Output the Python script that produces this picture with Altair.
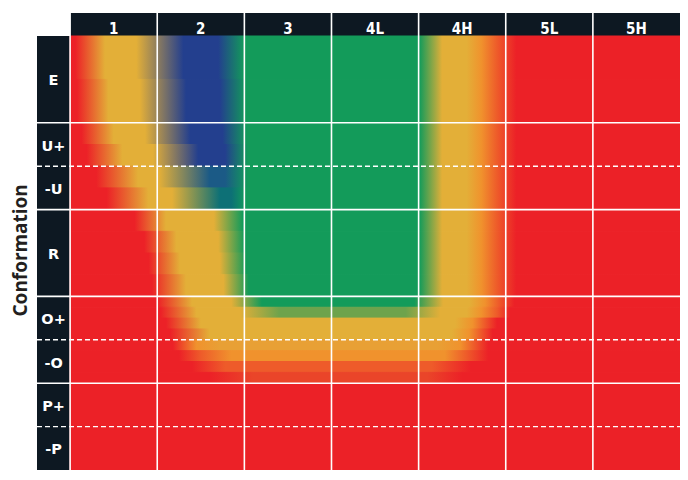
import altair as alt
import pandas as pd

# ---- categories -------------------------------------------------------
fat_classes = ["1", "2", "3", "4L", "4H", "5L", "5H"]
conformation = ["E", "U+", "-U", "R", "O+", "-O", "P+", "-P"]
conf_top = [0, 2, 3, 4, 6, 7, 8, 9]          # in half-class units
conf_bottom = [2, 3, 4, 6, 7, 8, 9, 10]
solid_rows = [2, 4, 6, 8]                    # main class boundaries
dashed_rows = [3, 7, 9]                      # sub-class boundaries

NCOL = len(fat_classes)
NROW = conf_bottom[-1]
XMIN = -0.38    # room for the conformation label column
YMIN = -0.53    # room for the fat class header

# ---- colour zones ----------------------------------------------------
PAL = {
    "R": "#EC2127", "Rd": "#EA4529", "Rr": "#EE5B2A", "Or": "#F0922D",
    "YO": "#E8A035", "Y": "#E3AF38", "L": "#6EA34C", "G": "#139B5A",
    "T": "#0D7076", "Bt": "#1B5A86", "B": "#233F8E",
}

band_top = [0, 1, 2, 2.5, 3, 3.5, 4, 4.5, 5, 5.5, 6, 6.25, 6.5, 6.75, 7, 7.25, 7.5, 7.75, 8]
band_bottom = [1, 2, 2.5, 3, 3.5, 4, 4.5, 5, 5.5, 6, 6.25, 6.5, 6.75, 7, 7.25, 7.5, 7.75, 8, 10]

right_side = [("G", 4.01), ("Y", 4.27), ("Y", 4.55), ("Or", 4.72), ("Rr", 4.90), ("R", 5.12), ("R", 7)]

band_profile = [
    [("R", 0), ("R", 0.06), ("Y", 0.40), ("Y", 0.76), ("B", 1.30), ("B", 1.70), ("G", 2.00)] + right_side,
    [("R", 0), ("R", 0.08), ("Y", 0.44), ("Y", 0.80), ("B", 1.33), ("B", 1.72), ("G", 2.02)] + right_side,
    [("R", 0), ("R", 0.13), ("Y", 0.50), ("Y", 0.86), ("B", 1.38), ("B", 1.75), ("G", 2.03)] + right_side,
    [("R", 0), ("R", 0.19), ("Y", 0.60), ("Y", 0.95), ("B", 1.47), ("B", 1.78), ("G", 2.04)] + right_side,
    [("R", 0), ("R", 0.30), ("Y", 0.78), ("Y", 1.02), ("Bt", 1.60), ("Bt", 1.78), ("G", 2.04)] + right_side,
    [("R", 0), ("R", 0.42), ("Y", 0.90), ("Y", 1.17), ("T", 1.72), ("T", 1.85), ("G", 2.02)] + right_side,
    [("R", 0), ("R", 0.74), ("Y", 1.10), ("Y", 1.65), ("G", 1.98)] + right_side,
    [("R", 0), ("R", 0.85), ("Y", 1.22), ("Y", 1.70), ("G", 2.00)] + right_side,
    [("R", 0), ("R", 0.90), ("Y", 1.26), ("Y", 1.72), ("G", 2.02)] + right_side,
    [("R", 0), ("R", 0.94), ("Y", 1.33), ("Y", 1.76), ("G", 2.05)] + right_side,
    [("R", 0), ("R", 1.00), ("Y", 1.40), ("Y", 1.85), ("G", 2.20), ("G", 3.95), ("Y", 4.28),
     ("Y", 4.58), ("Or", 4.76), ("Rr", 4.92), ("R", 5.10), ("R", 7)],
    [("R", 0), ("R", 1.04), ("Y", 1.45), ("Y", 1.95), ("L", 2.40), ("L", 3.85), ("Y", 4.25),
     ("Y", 4.55), ("Or", 4.72), ("Rr", 4.90), ("R", 5.05), ("R", 7)],
    [("R", 0), ("R", 1.10), ("Y", 1.50), ("Y", 4.42), ("Or", 4.62), ("R", 4.90), ("R", 7)],
    [("R", 0), ("R", 1.15), ("Y", 1.60), ("Y", 4.38), ("Or", 4.58), ("R", 4.85), ("R", 7)],
    [("R", 0), ("R", 1.18), ("Or", 1.45), ("YO", 1.72), ("YO", 4.22), ("Or", 4.48), ("R", 4.80), ("R", 7)],
    [("R", 0), ("R", 1.25), ("Rr", 1.50), ("Or", 1.85), ("Or", 4.30), ("Rr", 4.55), ("R", 4.80), ("R", 7)],
    [("R", 0), ("R", 1.40), ("Rr", 1.78), ("Rr", 4.15), ("R", 4.60), ("R", 7)],
    [("R", 0), ("R", 1.60), ("Rd", 2.10), ("Rd", 4.10), ("R", 4.50), ("R", 7)],
    [("R", 0), ("R", 7)],
]

DARK = "#0D1822"

xscale = alt.Scale(domain=[XMIN, NCOL], nice=False, zero=False)
yscale = alt.Scale(domain=[YMIN, NROW], nice=False, zero=False, reverse=True)


def xy(chart):
    return chart.encode(
        x=alt.X("x0:Q", scale=xscale, axis=None),
        x2="x1:Q",
        y=alt.Y("y0:Q", scale=yscale, axis=None),
        y2="y1:Q",
    )


layers = []

# label column
label_col = pd.DataFrame({"x0": [XMIN], "x1": [0], "y0": [conf_top[0]], "y1": [NROW]})
layers.append(xy(alt.Chart(label_col).mark_rect(color=DARK)))

# header
header = pd.DataFrame({"x0": [0], "x1": [NCOL], "y0": [YMIN], "y1": [0]})
layers.append(xy(alt.Chart(header).mark_rect(color=DARK)))

# blurred colour bands
for y0, y1, prof in zip(band_top, band_bottom, band_profile):
    grad = alt.Gradient(
        gradient="linear", x1=0, y1=0, x2=1, y2=0,
        stops=[alt.GradientStop(color=PAL[c], offset=u / NCOL) for c, u in prof],
    )
    df = pd.DataFrame({"x0": [0], "x1": [NCOL], "y0": [y0], "y1": [y1]})
    layers.append(xy(alt.Chart(df).mark_rect(fill=grad, stroke=grad, strokeWidth=1)))

# grid lines
vlines = pd.DataFrame({"x0": list(range(NCOL)), "x1": list(range(NCOL)),
                       "y0": [YMIN] * NCOL, "y1": [NROW] * NCOL})
layers.append(xy(alt.Chart(vlines).mark_rule(color="white", strokeWidth=1.6)))

hsolid = pd.DataFrame({"x0": [XMIN] * len(solid_rows), "x1": [NCOL] * len(solid_rows),
                       "y0": solid_rows, "y1": solid_rows})
layers.append(xy(alt.Chart(hsolid).mark_rule(color="white", strokeWidth=1.6)))

hdash = pd.DataFrame({"x0": [XMIN] * len(dashed_rows), "x1": [NCOL] * len(dashed_rows),
                      "y0": dashed_rows, "y1": dashed_rows})
layers.append(xy(alt.Chart(hdash).mark_rule(color="white", strokeWidth=1.4, strokeDash=[5, 3])))

# header labels
head_txt = pd.DataFrame({"label": fat_classes,
                         "x": [i + 0.5 for i in range(NCOL)],
                         "y": [YMIN / 2] * NCOL})
layers.append(alt.Chart(head_txt).mark_text(
    color="white", font="DejaVu Sans Condensed", fontWeight="bold", fontSize=15,
    baseline="middle", dy=4).encode(
    x=alt.X("x:Q", scale=xscale, axis=None),
    y=alt.Y("y:Q", scale=yscale, axis=None),
    text="label:N"))

# conformation labels
row_txt = pd.DataFrame({"label": conformation,
                        "x": [XMIN / 2] * len(conformation),
                        "y": [(a + b) / 2 for a, b in zip(conf_top, conf_bottom)]})
layers.append(alt.Chart(row_txt).mark_text(
    color="white", font="DejaVu Sans", fontWeight="bold", fontSize=14.5,
    baseline="middle", dy=2).encode(
    x=alt.X("x:Q", scale=xscale, axis=None),
    y=alt.Y("y:Q", scale=yscale, axis=None),
    text="label:N"))

chart = alt.layer(*layers).properties(
    width=643, height=457,
    autosize=alt.AutoSizeParams(type="none"),
    padding={"left": 29, "top": 5, "right": 0, "bottom": 0},
    title=alt.TitleParams(
        text="Conformation", orient="left", anchor="middle", offset=13,
        font="Noto Sans", fontSize=19, fontWeight="bold", color="#231F20",
        dx=-9, dy=8,
    ),
).configure_view(strokeWidth=0)

chart.save("out.html", embed_options={"renderer": "svg", "actions": False})
